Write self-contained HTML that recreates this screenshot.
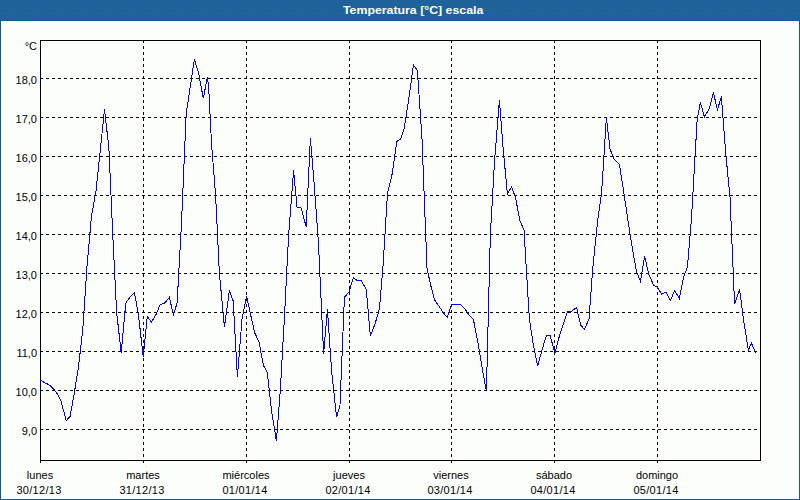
<!DOCTYPE html>
<html><head><meta charset="utf-8"><title>Temperatura</title>
<style>
html,body{margin:0;padding:0;}
body{width:800px;height:500px;overflow:hidden;background:#fcfefc;font-family:"Liberation Sans",sans-serif;font-size:11px;color:#000;position:relative;}
#frame{position:absolute;left:0;top:0;width:798px;height:478px;border:1px solid #125a92;border-top:21px solid #105a92;}
#hdr{position:absolute;left:0;top:0;width:800px;height:20px;background:#1e6297;}
#title{position:absolute;left:343px;top:0;height:21px;line-height:21px;white-space:nowrap;color:#fff;font-weight:bold;font-size:11px;transform-origin:0 0;transform:scaleX(1.12);}
.yl{position:absolute;left:0;width:37px;text-align:right;height:12px;line-height:12px;white-space:nowrap;}
.xl{position:absolute;width:100px;text-align:center;height:13px;line-height:13px;white-space:nowrap;}
</style></head><body>
<div id="frame"></div><div id="hdr"></div><svg width="800" height="20" style="position:absolute;left:0;top:0" shape-rendering="crispEdges"><defs><pattern id="dz" width="24" height="15" patternUnits="userSpaceOnUse"><g fill="#2262b4"><rect x="16" y="0" width="1" height="1"/><rect x="5" y="1" width="1" height="1"/><rect x="12" y="1" width="1" height="1"/><rect x="20" y="1" width="1" height="1"/><rect x="2" y="2" width="1" height="1"/><rect x="7" y="2" width="1" height="1"/><rect x="10" y="2" width="1" height="1"/><rect x="15" y="2" width="1" height="1"/><rect x="18" y="2" width="1" height="1"/><rect x="23" y="2" width="1" height="1"/><rect x="4" y="4" width="1" height="1"/><rect x="11" y="4" width="1" height="1"/><rect x="19" y="4" width="1" height="1"/><rect x="2" y="5" width="1" height="1"/><rect x="8" y="5" width="1" height="1"/><rect x="13" y="5" width="1" height="1"/><rect x="16" y="5" width="1" height="1"/><rect x="21" y="5" width="1" height="1"/><rect x="6" y="6" width="1" height="1"/><rect x="11" y="7" width="1" height="1"/><rect x="19" y="7" width="1" height="1"/><rect x="1" y="8" width="1" height="1"/><rect x="4" y="8" width="1" height="1"/><rect x="7" y="8" width="1" height="1"/><rect x="15" y="8" width="1" height="1"/><rect x="23" y="8" width="1" height="1"/><rect x="9" y="9" width="1" height="1"/><rect x="13" y="9" width="1" height="1"/><rect x="17" y="9" width="1" height="1"/><rect x="21" y="9" width="1" height="1"/><rect x="2" y="11" width="1" height="1"/><rect x="5" y="11" width="1" height="1"/><rect x="8" y="11" width="1" height="1"/><rect x="12" y="11" width="1" height="1"/><rect x="16" y="11" width="1" height="1"/><rect x="20" y="11" width="1" height="1"/><rect x="3" y="13" width="1" height="1"/><rect x="10" y="13" width="1" height="1"/><rect x="14" y="13" width="1" height="1"/><rect x="18" y="13" width="1" height="1"/><rect x="22" y="13" width="1" height="1"/><rect x="7" y="14" width="1" height="1"/></g></pattern></defs><rect width="800" height="20" fill="url(#dz)"/></svg>
<div id="title">Temperatura [°C] escala</div>
<svg width="800" height="500" viewBox="0 0 800 500" style="position:absolute;left:0;top:0"><g stroke="#000" stroke-width="1" stroke-dasharray="3,3" shape-rendering="crispEdges" fill="none"><line x1="40" y1="78.5" x2="760" y2="78.5"/><line x1="40" y1="117.5" x2="760" y2="117.5"/><line x1="40" y1="156.5" x2="760" y2="156.5"/><line x1="40" y1="195.5" x2="760" y2="195.5"/><line x1="40" y1="234.5" x2="760" y2="234.5"/><line x1="40" y1="273.5" x2="760" y2="273.5"/><line x1="40" y1="312.5" x2="760" y2="312.5"/><line x1="40" y1="351.5" x2="760" y2="351.5"/><line x1="40" y1="390.5" x2="760" y2="390.5"/><line x1="40" y1="429.5" x2="760" y2="429.5"/><line x1="143.5" y1="40" x2="143.5" y2="464"/><line x1="246.5" y1="40" x2="246.5" y2="464"/><line x1="349.5" y1="40" x2="349.5" y2="464"/><line x1="451.5" y1="40" x2="451.5" y2="464"/><line x1="554.5" y1="40" x2="554.5" y2="464"/><line x1="657.5" y1="40" x2="657.5" y2="464"/></g><g stroke="#000" stroke-width="1" shape-rendering="crispEdges" fill="none"><rect x="40.5" y="40.5" width="720" height="420"/><line x1="40.5" y1="460" x2="40.5" y2="463"/></g><polyline points="40.5,380.0 44.3,382.6 48.5,384.4 52.7,388.0 56.8,393.0 61.0,401.0 66.2,420.6 70.0,416.6 74.3,393.0 78.6,366.0 82.9,328.0 87.1,265.0 91.5,216.0 96.0,191.0 100.0,153.0 104.5,109.5 108.9,148.0 113.0,240.0 116.6,312.0 121.2,353.0 125.8,303.0 130.0,297.0 134.4,292.4 138.6,316.0 143.2,357.0 147.3,316.4 151.4,322.0 155.8,315.0 160.0,305.0 164.6,303.0 169.4,297.4 173.4,315.0 177.1,303.0 181.4,225.0 186.2,114.0 190.5,85.0 194.4,59.2 198.8,74.0 203.3,98.4 207.4,77.0 208.6,86.0 211.5,143.0 215.7,197.0 219.3,272.0 224.4,327.0 229.4,290.6 233.2,301.0 237.4,377.0 242.0,319.0 246.6,296.0 250.2,313.0 254.8,333.0 259.0,342.0 263.3,365.0 267.4,373.0 271.6,411.0 276.4,441.0 280.2,392.0 284.4,318.0 288.5,237.0 293.6,170.4 297.0,207.0 301.2,208.0 306.2,227.0 310.4,138.0 314.3,186.0 318.4,242.0 323.6,354.0 327.4,309.4 331.6,371.0 336.6,417.4 340.0,405.0 344.4,297.4 349.0,292.0 353.4,277.4 357.0,280.4 361.0,280.4 366.2,289.0 370.4,336.0 375.0,324.0 379.4,309.0 383.3,262.0 387.5,193.0 391.8,176.0 396.8,141.5 400.6,139.0 404.3,128.0 408.8,99.0 413.4,65.0 417.4,70.4 422.0,139.0 427.0,268.0 430.6,285.0 434.6,300.0 438.2,305.0 443.4,313.0 447.4,317.4 451.4,304.6 456.0,304.6 460.6,304.6 465.0,309.0 469.0,315.0 473.4,319.4 477.8,342.0 482.0,367.0 486.4,391.4 490.3,236.0 494.4,163.0 499.4,100.0 503.0,147.0 507.4,194.0 511.6,186.6 515.6,198.0 520.0,221.0 524.0,230.0 529.3,318.0 533.0,343.0 537.6,366.4 542.0,350.0 546.4,335.4 550.0,335.4 555.0,353.0 559.4,336.0 563.4,324.0 567.4,311.6 571.0,311.6 576.6,307.4 580.6,325.0 584.4,329.4 589.0,319.0 592.6,270.0 597.5,222.0 601.6,193.0 606.4,117.4 610.0,149.0 613.8,158.5 619.4,164.4 623.0,187.0 627.3,216.0 631.6,244.0 636.4,271.0 640.4,281.4 644.6,256.4 649.0,275.0 653.6,285.0 657.0,287.0 661.6,294.0 666.0,292.4 670.4,300.4 674.6,290.6 679.4,298.6 683.6,277.0 687.4,267.0 691.5,218.0 697.2,119.0 700.4,102.4 704.4,117.0 709.2,109.0 713.4,92.4 717.4,110.0 721.4,96.4 725.7,153.0 730.0,197.0 734.6,304.4 739.6,289.4 743.3,318.0 748.4,350.4 751.4,343.0 755.6,352.6" fill="none" stroke="#0000ff" stroke-width="1" shape-rendering="crispEdges" stroke-linejoin="miter"/></svg>
<div class="yl" style="top:74px">18,0</div><div class="yl" style="top:113px">17,0</div><div class="yl" style="top:152px">16,0</div><div class="yl" style="top:191px">15,0</div><div class="yl" style="top:230px">14,0</div><div class="yl" style="top:269px">13,0</div><div class="yl" style="top:308px">12,0</div><div class="yl" style="top:347px">11,0</div><div class="yl" style="top:386px">10,0</div><div class="yl" style="top:425px">9,0</div><div class="yl" style="top:40px">°C</div><div class="xl" style="left:-10px;top:469px">lunes</div><div class="xl" style="left:-11px;top:484px;letter-spacing:0.28px">30/12/13</div><div class="xl" style="left:93px;top:469px">martes</div><div class="xl" style="left:92px;top:484px;letter-spacing:0.28px">31/12/13</div><div class="xl" style="left:196px;top:469px">miércoles</div><div class="xl" style="left:195px;top:484px;letter-spacing:0.28px">01/01/14</div><div class="xl" style="left:299px;top:469px">jueves</div><div class="xl" style="left:298px;top:484px;letter-spacing:0.28px">02/01/14</div><div class="xl" style="left:401px;top:469px">viernes</div><div class="xl" style="left:400px;top:484px;letter-spacing:0.28px">03/01/14</div><div class="xl" style="left:504px;top:469px">sábado</div><div class="xl" style="left:503px;top:484px;letter-spacing:0.28px">04/01/14</div><div class="xl" style="left:607px;top:469px">domingo</div><div class="xl" style="left:606px;top:484px;letter-spacing:0.28px">05/01/14</div>
</body></html>
